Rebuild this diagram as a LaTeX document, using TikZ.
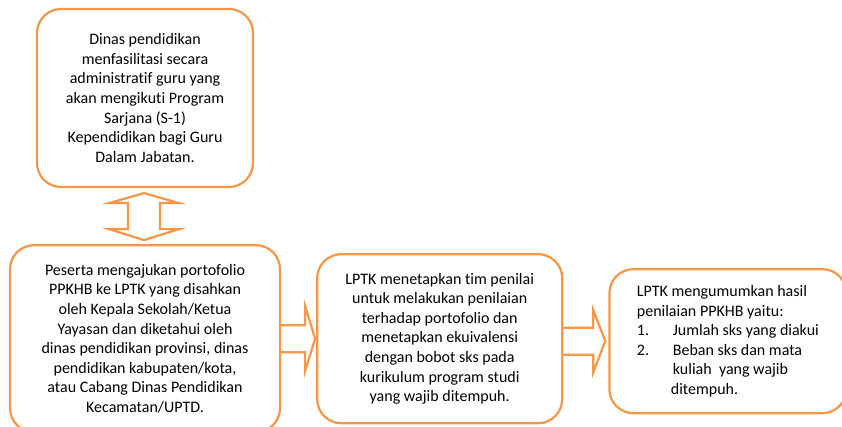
\documentclass[tikz,border=0pt]{standalone}
\usepackage{fontspec}
\setmainfont{Carlito}[Ligatures=NoCommon]
\usepackage{tikz}
\usetikzlibrary{positioning, calc}
\definecolor{FlowOrange}{RGB}{247,150,70}

\begin{document}
\begin{tikzpicture}[
    x=1pt, y=-1pt,
    font=\fontsize{16}{19.6}\selectfont,
    stepbox/.style={
        draw=FlowOrange,
        line width=2.2pt,
        rounded corners=24pt,
        align=center,
        fill=white
    },
    flow/.style={
        draw=FlowOrange,
        line width=2.2pt,
        line join=miter
    }
]
\useasboundingbox (0,0) rectangle (842,427);

% Dinas pendidikan at the top left
\node[stepbox, minimum width=216pt, minimum height=178pt] (dinas) at (145,98)
    {Dinas pendidikan\\menfasilitasi secara\\administratif guru yang\\akan mengikuti Program\\Sarjana (S-1)\\Kependidikan bagi Guru\\Dalam Jabatan.};

% Three steps in a row below
\node[stepbox, minimum width=270pt, minimum height=187pt, below=56pt of dinas] (peserta)
    {Peserta mengajukan portofolio\\PPKHB ke LPTK yang disahkan\\oleh Kepala Sekolah/Ketua\\Yayasan dan diketahui oleh\\dinas pendidikan provinsi, dinas\\pendidikan kabupaten/kota,\\atau Cabang Dinas Pendidikan\\Kecamatan/UPTD.};
\node[stepbox, minimum width=245pt, minimum height=169pt, right=35pt of peserta] (lptk)
    {LPTK menetapkan tim penilai\\untuk melakukan penilaian\\terhadap portofolio dan\\menetapkan ekuivalensi\\dengan bobot sks pada\\kurikulum program studi\\yang wajib ditempuh.};
\node[stepbox, align=left, minimum width=237pt, minimum height=144pt, right=45pt of lptk, yshift=-2.5pt] (hasil)
    {LPTK mengumumkan hasil\\penilaian PPKHB yaitu:\\\makebox[36pt][l]{1.}Jumlah sks yang diakui\\\makebox[36pt][l]{2.}Beban sks dan mata\\\hspace*{36pt}kuliah\ \ yang wajib\\\hspace*{34pt}ditempuh.};

% Double block arrow between dinas and peserta
\draw[flow] let \p1=(dinas.south), \p2=(peserta.north) in
    (\x2-1pt,\y1-5pt) -- (\x2+34pt,\y1-15pt) -- (\x2+15pt,\y1-15pt)
    -- (\x2+15pt,\y2+15pt) -- (\x2+34pt,\y2+15pt) -- (\x2-1pt,\y2+4pt)
    -- (\x2-36pt,\y2+15pt) -- (\x2-17pt,\y2+15pt) -- (\x2-17pt,\y1-15pt)
    -- (\x2-36pt,\y1-15pt) -- cycle;

% Block arrows between the steps
\draw[flow] let \p1=(peserta.east), \p2=(lptk.west) in
    (\x1,\y2+13.5pt) -- (\x2-11pt,\y2+13.5pt) -- (\x2-11pt,\y2+32.5pt)
    -- (\x2-1pt,\y2) -- (\x2-11pt,\y2-32.5pt) -- (\x2-11pt,\y2-13.5pt) -- (\x1,\y2-13.5pt);
\draw[flow] let \p1=(lptk.east), \p2=(hasil.west) in
    (\x1,\y2+13.5pt) -- (\x2-15pt,\y2+13.5pt) -- (\x2-15pt,\y2+31pt)
    -- (\x2-3pt,\y2) -- (\x2-15pt,\y2-31pt) -- (\x2-15pt,\y2-13.5pt) -- (\x1,\y2-13.5pt);

\end{tikzpicture}
\end{document}
